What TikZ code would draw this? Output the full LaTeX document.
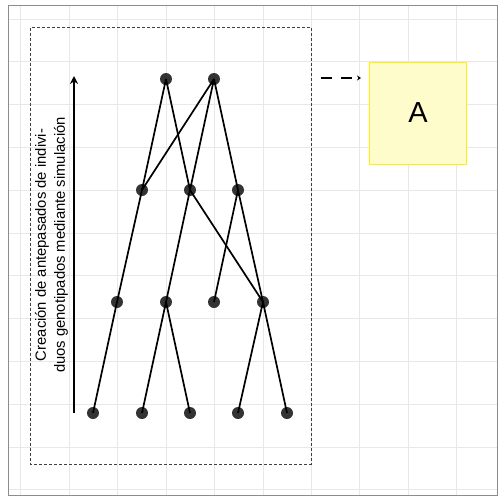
\documentclass[tikz,border=0pt]{standalone}
\usepackage{fontspec}
\setmainfont{Liberation Sans}
\usetikzlibrary{arrows.meta}
\begin{document}
\begin{tikzpicture}[x=1pt,y=-1pt,
  dot/.style={circle,fill=black!80,inner sep=0pt,minimum size=12pt},
  edge/.style={line width=1.7pt,black},
  gridline/.style={line width=0.7pt,black!9},
  boxA/.style={draw=yellow,line width=1pt,fill=yellow!20,minimum width=97pt,minimum height=102pt,inner sep=0pt}]
\useasboundingbox (0,0) rectangle (504,504);
\fill[white] (0,0) rectangle (504,504);
% grid
\foreach \gx in {20.7,69.2,117.6,166,214.4,262.9,311.3,359.8,408.2,456.7}
  \draw[gridline] (\gx,5) -- (\gx,495);
\foreach \gy in {19,61.8,104.6,147.4,190.2,233,275.8,318.6,361.4,404.2,447,489.8}
  \draw[gridline] (8,\gy) -- (497,\gy);
\draw[black!45,line width=0.8pt] (8,5) rectangle (497,495);
% dashed frame
\draw[black!75,line width=0.7pt,dash pattern=on 3pt off 2pt] (30.5,27.5) rectangle (311,464);
% nodes
\node[dot] (t1) at (166,79) {};
\node[dot] (t2) at (214,79) {};
\node[dot] (m1) at (142,190) {};
\node[dot] (m2) at (190,190) {};
\node[dot] (m3) at (238,190) {};
\node[dot] (l1) at (117,302) {};
\node[dot] (l2) at (166,302) {};
\node[dot] (l3) at (214,302) {};
\node[dot] (l4) at (263,302) {};
\node[dot] (b1) at (93,413) {};
\node[dot] (b2) at (142,413) {};
\node[dot] (b3) at (190,413) {};
\node[dot] (b4) at (238,413) {};
\node[dot] (b5) at (287,413) {};
% edges
\draw[edge] (t1.center) -- (m1.center);
\draw[edge] (t1.center) -- (m2.center);
\draw[edge] (t2.center) -- (m1.center);
\draw[edge] (t2.center) -- (m2.center);
\draw[edge] (t2.center) -- (m3.center);
\draw[edge] (m1.center) -- (l1.center);
\draw[edge] (m2.center) -- (l2.center);
\draw[edge] (m2.center) -- (l4.center);
\draw[edge] (m3.center) -- (l3.center);
\draw[edge] (m3.center) -- (l4.center);
\draw[edge] (l1.center) -- (b1.center);
\draw[edge] (l2.center) -- (b2.center);
\draw[edge] (l2.center) -- (b3.center);
\draw[edge] (l4.center) -- (b4.center);
\draw[edge] (l4.center) -- (b5.center);
% left arrow and label
\coordinate (arrS) at (74,413);
\coordinate (arrE) at (74,76);
\draw[line width=2.6pt,-{Stealth[length=8pt,width=8pt]}] (arrS) -- (arrE);
\node[rotate=90,align=center,font=\fontsize{14.8}{19}\selectfont] (lab) at (51.5,245)
  {Creación de antepasados de indivi-\\duos genotipados mediante simulación};
% box A
\node[boxA,font=\fontsize{29}{32}\selectfont] (A) at (418,113) {A};
\coordinate (dS) at (321,78);
\coordinate (dE) at (361,78);
\draw[line width=2pt,dash pattern=on 11pt off 9pt,-{Stealth[length=4pt,width=5pt]}] (dS) -- (dE);
\end{tikzpicture}
\end{document}
